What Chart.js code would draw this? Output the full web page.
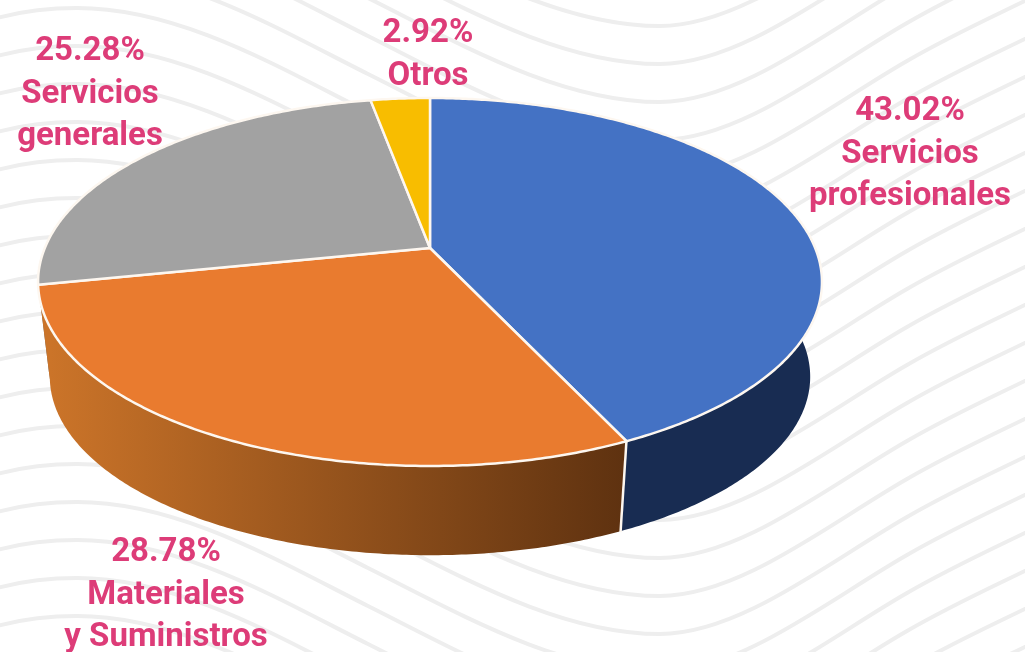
<!DOCTYPE html>
<html>
<head>
<meta charset="utf-8">
<title>Gasto por capítulo</title>
<script src="https://cdn.jsdelivr.net/npm/chart.js@4"></script>
<style>
  html, body { margin: 0; padding: 0; background: #fff; overflow: hidden; }
  canvas { display: block; }
</style>
</head>
<body>
<canvas id="pie" width="1025" height="652"></canvas>
<script>
// data
const categories = [["Servicios", "profesionales"], ["Materiales", "y Suministros"], ["Servicios", "generales"], ["Otros"]];
const values = [43.02, 28.78, 25.28, 2.92];

// styles
const topColors = ["#4472c4", "#e97b2f", "#a2a2a2", "#f8bd00"];
const wallColors = [["#182c52", "#182c52"], ["#cb7429", "#5f3210"], ["#6b6b6b", "#6b6b6b"], ["#9a7600", "#9a7600"]];
const labelColor = "#dd3c78";
const edgeColor = "#fdf7f0";

// centre x and first baseline of each label block
const labelAnchors = [[910, 120], [166, 561], [90, 60], [428, 42]];
const lineHeight = 42.5;

// perspective of the disc: maps the unit circle to the slanted ellipse on screen
const apexX = 430, apexY = 248, scaleX = 385.2, scaleY = 177.7, tilt = -0.1848;
// the lower face is the upper one shrunk towards a far vanishing point
const vanishY = 3440, depthScale = 0.97;

function project(u, v) {
  const w = 1 + tilt * v;
  return [apexX + scaleX * u / w, apexY + scaleY * v / w];
}
function lower(p) {
  return [apexX + (p[0] - apexX) * depthScale, vanishY + (p[1] - vanishY) * depthScale];
}
function rimPoints(start, end) {
  const n = Math.max(4, Math.ceil((end - start) / 0.01));
  const pts = [];
  for (let i = 0; i <= n; i++) {
    const a = start + (end - start) * i / n;
    pts.push(project(Math.cos(a), Math.sin(a)));
  }
  return pts;
}

const backgroundWaves = {
  id: "backgroundWaves",
  beforeDraw(chart) {
    const ctx = chart.ctx;
    ctx.save();
    ctx.fillStyle = "#fff";
    ctx.fillRect(0, 0, chart.width, chart.height);
    ctx.strokeStyle = "#eeeeee";
    ctx.lineWidth = 4;
    for (let y = 8 - 38 * 12; y < 700; y += 38) {
      ctx.beginPath();
      ctx.moveTo(-10, y + 12);
      ctx.bezierCurveTo(20, y + 3, 50, y, 77, y);
      ctx.bezierCurveTo(180, y, 280, y + 60, 368, y + 104);
      ctx.bezierCurveTo(460, y + 150, 560, y + 208, 660, y + 208);
      ctx.bezierCurveTo(740, y + 208, 830, y + 135, 907, y + 91);
      ctx.bezierCurveTo(950, y + 66, 990, y + 48, 1035, y + 26);
      ctx.stroke();
    }
    ctx.restore();
  }
};

const tiltedPie = {
  id: "tiltedPie",
  // the arcs keep the angles the doughnut controller worked out, only the drawing is projected
  beforeDatasetsDraw(chart) {
    const ctx = chart.ctx;
    const arcs = chart.getDatasetMeta(0).data;
    ctx.save();
    ctx.lineJoin = "round";

    // side wall, back slices first
    [2, 3, 0, 1].forEach(i => {
      const pts = rimPoints(arcs[i].startAngle, arcs[i].endAngle);
      const grad = ctx.createLinearGradient(50, 0, 622, 0);
      grad.addColorStop(0, wallColors[i][0]);
      grad.addColorStop(1, wallColors[i][1]);
      ctx.beginPath();
      pts.forEach((p, k) => k ? ctx.lineTo(p[0], p[1]) : ctx.moveTo(p[0], p[1]));
      pts.slice().reverse().forEach(p => { const q = lower(p); ctx.lineTo(q[0], q[1]); });
      ctx.closePath();
      ctx.fillStyle = grad;
      ctx.fill();
    });

    // separators on the wall, only where a boundary faces the viewer
    ctx.strokeStyle = edgeColor;
    ctx.lineWidth = 2.5;
    arcs.forEach(arc => {
      const v = Math.sin(arc.endAngle);
      if (v > 0.3) {
        const p = project(Math.cos(arc.endAngle), v);
        const q = lower(p);
        ctx.beginPath();
        ctx.moveTo(p[0], p[1]);
        ctx.lineTo(q[0], q[1] + 1);
        ctx.stroke();
      }
    });

    // top face
    arcs.forEach((arc, i) => {
      ctx.beginPath();
      ctx.moveTo(apexX, apexY);
      rimPoints(arc.startAngle, arc.endAngle).forEach(p => ctx.lineTo(p[0], p[1]));
      ctx.closePath();
      ctx.fillStyle = topColors[i];
      ctx.fill();
      ctx.stroke();
    });
    ctx.restore();
    return false;
  }
};

const sliceLabels = {
  id: "sliceLabels",
  afterDraw(chart) {
    const ctx = chart.ctx;
    ctx.save();
    ctx.font = "700 33px Roboto";
    ctx.fillStyle = labelColor;
    ctx.textAlign = "center";
    ctx.textBaseline = "alphabetic";
    values.forEach((val, i) => {
      const [x, y] = labelAnchors[i];
      ctx.fillText(val.toFixed(2) + "%", x, y);
      categories[i].forEach((line, k) => ctx.fillText(line, x, y + lineHeight * (k + 1)));
    });
    ctx.restore();
  }
};

new Chart(document.getElementById("pie"), {
  type: "pie",
  data: {
    labels: categories.map(c => c.join(" ")),
    datasets: [{ data: values, backgroundColor: topColors }]
  },
  options: {
    responsive: false,
    animation: false,
    events: [],
    plugins: { legend: { display: false }, tooltip: { enabled: false } }
  },
  plugins: [backgroundWaves, tiltedPie, sliceLabels]
});
</script>
</body>
</html>
